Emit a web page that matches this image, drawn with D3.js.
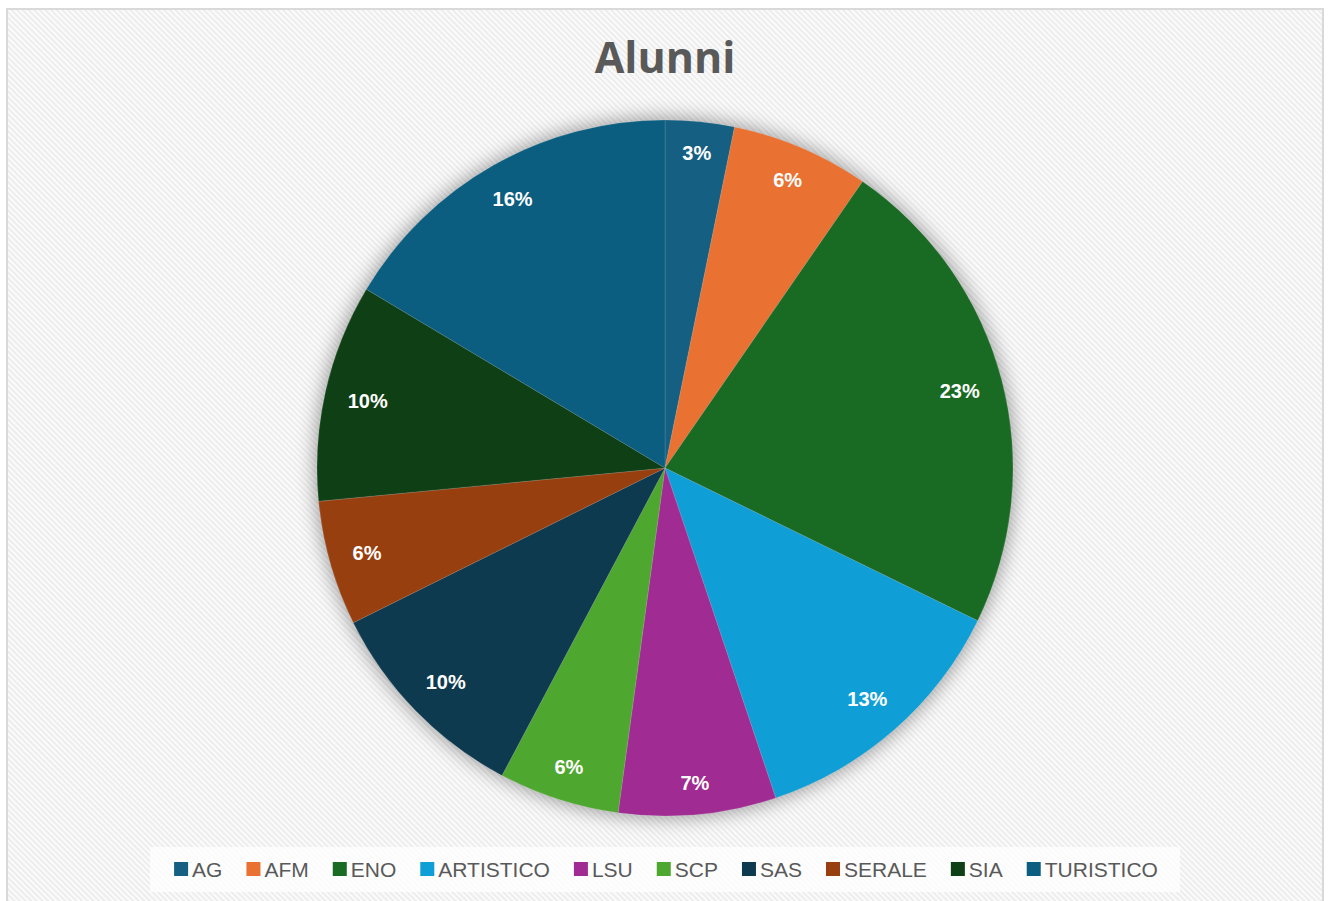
<!DOCTYPE html>
<html>
<head>
<meta charset="utf-8">
<script src="https://cdn.jsdelivr.net/npm/d3@7"></script>
<style>
  body { margin: 0; background: #ffffff; }
  svg { display: block; }
</style>
</head>
<body>
<div id="chart"></div>
<script>
const w = 1330;
const h = 901;

// data (student counts)
const categories = ['AG', 'AFM', 'ENO', 'ARTISTICO', 'LSU', 'SCP', 'SAS', 'SERALE', 'SIA', 'TURISTICO'];
const values = [32, 64, 226, 126, 73, 56, 99, 58, 101, 164];
const colors = ['#156082', '#E97132', '#196B24', '#0F9ED5', '#A02B93', '#4EA72E', '#0D3A4F', '#983F10', '#0F3F15', '#0B5E80'];

const cx = 665;
const cy = 468;
const radius = 348;

const svg = d3.select('#chart')
              .append('svg')
              .attr('width', w)
              .attr('height', h);

const defs = svg.append('defs');

const pattern = defs.append('pattern')
                    .attr('id', 'stripes')
                    .attr('patternUnits', 'userSpaceOnUse')
                    .attr('width', 4)
                    .attr('height', 4)
                    .attr('patternTransform', 'rotate(-45)');
pattern.append('rect')
       .attr('width', 4)
       .attr('height', 4)
       .attr('fill', '#fbfbfb');
pattern.append('rect')
       .attr('width', 2)
       .attr('height', 4)
       .attr('fill', '#ededed');

const blur = defs.append('filter')
                 .attr('id', 'shadow')
                 .attr('x', '-20%')
                 .attr('y', '-20%')
                 .attr('width', '140%')
                 .attr('height', '140%');
blur.append('feGaussianBlur')
    .attr('stdDeviation', 9);

// chart area
svg.append('rect')
   .attr('x', 7)
   .attr('y', 9)
   .attr('width', 1316)
   .attr('height', 900)
   .attr('fill', 'url(#stripes)')
   .attr('stroke', '#d9d9d9')
   .attr('stroke-width', 2);

// title
svg.append('text')
   .attr('x', 665)
   .attr('y', 73)
   .attr('text-anchor', 'middle')
   .style('font-family', '"Open Sans", sans-serif')
   .style('font-weight', 'bold')
   .style('font-size', '43px')
   .style('fill', '#595959')
   .text('Alunni');

const pie = d3.pie().sort(null).value((d) => d);
const arcs = pie(values);

const arc = d3.arc().innerRadius(0).outerRadius(radius);

const g = svg.append('g')
             .attr('transform', 'translate(' + cx + ',' + cy + ')');

// soft shadow behind the pie
g.append('circle')
 .attr('r', radius + 3)
 .attr('fill', 'rgba(0,0,0,0.34)')
 .attr('filter', 'url(#shadow)');

g.selectAll('path.slice')
 .data(arcs)
 .enter()
 .append('path')
 .attr('class', 'slice')
 .attr('d', arc)
 .attr('fill', (d, i) => colors[i])
 .attr('stroke', 'rgba(255,255,255,0.12)')
 .attr('stroke-width', 1);

const total = d3.sum(values);
const fmt = d3.format('.0%');

// labels near the outer edge, pulled in so the text box fits inside
const labels = g.selectAll('text.label')
 .data(arcs)
 .enter()
 .append('text')
 .attr('class', 'label')
 .attr('text-anchor', 'middle')
 .attr('dominant-baseline', 'central')
 .style('font-family', '"Liberation Sans", Arial, sans-serif')
 .style('font-weight', 'bold')
 .style('font-size', '20px')
 .style('fill', '#ffffff')
 .text((d) => fmt(d.value / total));

labels.each(function (d) {
  const a = (d.startAngle + d.endAngle) / 2;
  const tw = this.getComputedTextLength();
  const half = Math.abs(Math.sin(a)) * tw / 2 + Math.abs(Math.cos(a)) * 8;
  const r = radius - 22 - half;
  d3.select(this)
    .attr('x', r * Math.sin(a))
    .attr('y', -r * Math.cos(a));
});

// legend
const legend = svg.append('g');

legend.append('rect')
      .attr('x', 150)
      .attr('y', 847)
      .attr('width', 1030)
      .attr('height', 45)
      .attr('fill', 'rgba(255,255,255,0.75)');

const items = legend.selectAll('g.item')
                    .data(categories)
                    .enter()
                    .append('g')
                    .attr('class', 'item');

items.append('rect')
     .attr('width', 14)
     .attr('height', 14)
     .attr('y', 862)
     .attr('fill', (d, i) => colors[i]);

items.append('text')
     .attr('x', 18)
     .attr('y', 877)
     .style('font-family', '"Liberation Sans", Arial, sans-serif')
     .style('font-size', '21px')
     .style('fill', '#595959')
     .text((d) => d);

const gap = 24;
let widths = [];
items.each(function () {
  widths.push(18 + d3.select(this).select('text').node().getComputedTextLength());
});
const legendWidth = d3.sum(widths) + gap * (widths.length - 1);
let xPos = 666 - legendWidth / 2;
items.attr('transform', function (d, i) {
  const t = 'translate(' + xPos + ',0)';
  xPos += widths[i] + gap;
  return t;
});
</script>
</body>
</html>
